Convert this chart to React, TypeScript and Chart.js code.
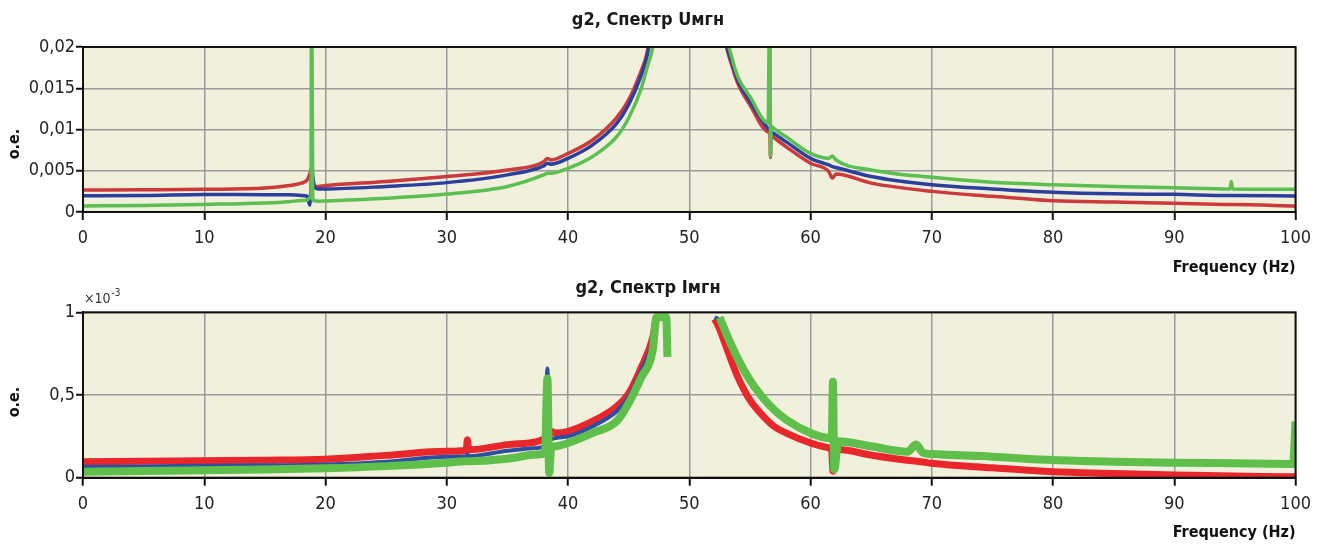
import React, { useEffect, useRef } from 'react';
import { Chart, registerables } from 'chart.js';

Chart.register(...registerables);

const FONT = "'DejaVu Sans Condensed', 'Liberation Sans Narrow', 'Arial Narrow', sans-serif";

// ---------- shared tick labels ----------
const xTickLabels = ['0', '10', '20', '30', '40', '50', '60', '70', '80', '90', '100'];
const yTicksTop = ['0', '0,005', '0,01', '0,015', '0,02'];
const yTicksBottom = ['0', '0,5', '1'];

// ---------- top chart: g2, Спектр Uмгн ----------
const freqTop = [
  0, 5, 10, 15, 17, 18, 18.5, 18.7, 18.8, 18.85, 18.95, 19.1, 19.4, 20, 25, 30, 35, 38, 38.3, 38.6,
  40, 42, 44, 45, 46, 46.5, 47, 47.5, 48, 52, 52.5, 53, 53.5, 54, 55, 56.5, 56.65, 56.7, 56.75, 57,
  58, 60, 61.5, 61.8, 62.1, 65, 70, 75, 80, 85, 90, 94.6, 94.7, 94.8, 100,
];
const redTop = [
  0.00267, 0.0027, 0.00275, 0.0029, 0.0032, 0.0035, 0.0039, 0.0046, 0.0051, 0.0053, 0.004, 0.0032, 0.0031, 0.0032, 0.0037, 0.0043, 0.0051, 0.0061, 0.0065, 0.0063,
  0.0071, 0.0087, 0.0114, 0.0136, 0.017, 0.0192, 0.024, 0.03, 0.04, 0.04, 0.026, 0.0205, 0.0178, 0.0156, 0.013, 0.0097, 0.0094, 0.0066, 0.0093, 0.009,
  0.0079, 0.0059, 0.0049, 0.0041, 0.0046, 0.0035, 0.0025, 0.0019, 0.00137, 0.0012, 0.00105, 0.0009, 0.0009, 0.0009, 0.00073,
];
const blueTop = [
  0.00198, 0.002, 0.00212, 0.0021, 0.0021, 0.002, 0.0019, 0.00085, 0.003, 0.0055, 0.0043, 0.003, 0.0028, 0.0028, 0.0031, 0.00356, 0.0045, 0.0056, 0.0059, 0.0058,
  0.0065, 0.0081, 0.0107, 0.013, 0.0164, 0.0188, 0.023, 0.029, 0.04, 0.04, 0.027, 0.021, 0.0182, 0.016, 0.0134, 0.0101, 0.0099, 0.0098, 0.0097, 0.0095,
  0.0085, 0.0065, 0.0057, 0.0055, 0.0054, 0.0043, 0.0033, 0.0028, 0.0024, 0.0022, 0.00214, 0.002, 0.002, 0.002, 0.00194,
];
const greenTop = [
  0.00073, 0.00078, 0.00092, 0.0011, 0.00125, 0.0014, 0.00145, 0.0017, 0.0019, 0.03, 0.0015, 0.00135, 0.0013, 0.00133, 0.00166, 0.00218, 0.0031, 0.0045, 0.0047, 0.0047,
  0.0053, 0.0067, 0.0091, 0.0114, 0.0148, 0.0174, 0.02, 0.025, 0.035, 0.04, 0.029, 0.022, 0.0188, 0.0164, 0.014, 0.0108, 0.03, 0.0068, 0.0104, 0.0101,
  0.0091, 0.0071, 0.0065, 0.0068, 0.0063, 0.0051, 0.0042, 0.0036, 0.0033, 0.0031, 0.00295, 0.0028, 0.0037, 0.0028, 0.00275,
];

// ---------- bottom chart: g2, Спектр Iмгн (values ×10^-3) ----------
const freqBottom = [
  0, 5, 10, 15, 20, 25, 30, 31.6, 31.7, 31.8, 35, 37.5, 38.1, 38.3, 38.45, 38.6, 39, 40, 42, 44,
  45, 46, 47, 47.3, 48.1, 48.2, 48.3, 50, 52.1, 52.5, 53, 54, 55, 56, 57, 58, 60, 61.5, 61.75, 61.85,
  61.95, 62.3, 65, 68, 68.7, 69.3, 70, 75, 80, 85, 90, 95, 99.8, 100,
];
const redBottom = [
  0.097, 0.1, 0.103, 0.106, 0.112, 0.135, 0.16, 0.165, 0.23, 0.168, 0.2, 0.22, 0.24, 0.26, 0.25, 0.28, 0.27, 0.28, 0.34, 0.43,
  0.51, 0.66, 0.85, 0.97, 0.97, 0.97, null, null, 0.96, 0.9, 0.8, 0.61, 0.47, 0.38, 0.31, 0.27, 0.21, 0.18, 0.16, 0.04,
  0.15, 0.17, 0.137, 0.105, 0.1, 0.095, 0.087, 0.06, 0.036, 0.026, 0.016, 0.01, 0.006, 0.006,
];
const blueBottom = [
  0.066, 0.068, 0.073, 0.075, 0.08, 0.097, 0.127, 0.13, 0.14, 0.13, 0.163, 0.18, 0.2, 0.66, 0.22, 0.23, 0.24, 0.25, 0.31, 0.4,
  0.49, 0.64, 0.83, 0.97, 0.97, 0.97, null, null, 0.97, 0.95, 0.87, 0.71, 0.58, 0.48, 0.4, 0.34, 0.26, 0.23, 0.22, 0.5,
  0.1, 0.21, 0.18, 0.15, 0.19, 0.145, 0.135, 0.12, 0.1, 0.092, 0.085, 0.082, 0.08, 0.08,
];
const greenBottom = [
  0.036, 0.04, 0.045, 0.05, 0.057, 0.07, 0.09, 0.1, 0.1, 0.1, 0.115, 0.14, 0.15, 0.6, 0.03, 0.17, 0.19, 0.21, 0.27, 0.34,
  0.45, 0.6, 0.78, 0.97, 0.97, 0.73, null, null, null, 0.97, 0.88, 0.72, 0.59, 0.49, 0.41, 0.35, 0.27, 0.24, 0.24, 0.58,
  0.05, 0.22, 0.19, 0.157, 0.2, 0.15, 0.143, 0.127, 0.107, 0.097, 0.091, 0.087, 0.083, 0.34,
];

const toPoints = (xs: number[], ys: (number | null)[]) => xs.map((x, i) => ({ x, y: ys[i] }));

type Extra = { yLabelCenter: number; exponent?: boolean };

function framePlugin(extra: Extra) {
  return {
    id: 'frame',
    beforeDraw(chart: any) {
      const { ctx, chartArea: a } = chart;
      ctx.save();
      ctx.fillStyle = '#f0f0dc';
      ctx.fillRect(a.left, a.top, a.right - a.left, a.bottom - a.top);
      ctx.restore();
    },
    afterDatasetsDraw(chart: any) {
      const { ctx, chartArea: a } = chart;
      ctx.save();
      ctx.strokeStyle = '#111';
      ctx.lineWidth = 2;
      ctx.strokeRect(a.left, a.top, a.right - a.left, a.bottom - a.top);
      ctx.restore();
    },
    afterDraw(chart: any) {
      const { ctx } = chart;
      ctx.save();
      ctx.fillStyle = '#111';
      ctx.font = `bold 16px ${FONT}`;
      ctx.textAlign = 'center';
      ctx.textBaseline = 'middle';
      ctx.translate(15, extra.yLabelCenter);
      ctx.rotate(-Math.PI / 2);
      ctx.fillText('о.е.', 0, 0);
      ctx.restore();
      if (extra.exponent) {
        ctx.save();
        ctx.fillStyle = '#333';
        ctx.textAlign = 'left';
        ctx.textBaseline = 'alphabetic';
        ctx.font = `14px ${FONT}`;
        ctx.fillText('×10', 84, 25);
        const w = ctx.measureText('×10').width;
        ctx.font = `10px ${FONT}`;
        ctx.fillText('-3', 84 + w + 1, 18);
        ctx.restore();
      }
    },
  };
}

type ChartSpec = {
  title: string;
  height: number;
  titlePad: { top: number; bottom: number };
  xAxisH: number;
  xTitleBottom: number;
  yMax: number;
  yStep: number;
  yLabels: string[];
  series: { data: { x: number; y: number | null }[]; color: string; width: number }[];
  extra: Extra;
};

function buildConfig(s: ChartSpec): any {
  return {
    type: 'line',
    data: {
      // first dataset is drawn on top
      datasets: s.series.map((d) => ({
        data: d.data,
        borderColor: d.color,
        borderWidth: d.width,
        pointRadius: 0,
        fill: false,
        cubicInterpolationMode: 'monotone',
        spanGaps: false,
        clip: 0,
      })),
    },
    options: {
      responsive: false,
      animation: false,
      events: [],
      layout: { padding: { left: 0, right: 23, top: 0, bottom: 0 } },
      plugins: {
        legend: { display: false },
        tooltip: { enabled: false },
        title: {
          display: true,
          text: s.title,
          color: '#1a1a1a',
          font: { family: FONT, size: 18, weight: 'bold', lineHeight: 1 },
          padding: s.titlePad,
        },
      },
      scales: {
        x: {
          type: 'linear',
          min: 0,
          max: 100,
          ticks: {
            stepSize: 10,
            autoSkip: false,
            maxRotation: 0,
            callback: (_v: any, i: number) => xTickLabels[i],
            font: { family: FONT, size: 18 },
            color: '#222',
            padding: 8,
          },
          grid: { color: '#9a9a9a', lineWidth: 1.5, tickColor: '#111', tickLength: 8, tickWidth: 2 },
          border: { display: true, color: '#111', width: 2 },
          title: {
            display: true,
            text: 'Frequency (Hz)',
            align: 'end',
            color: '#111',
            font: { family: FONT, size: 16, weight: 'bold', lineHeight: 1 },
            padding: { top: 0, bottom: s.xTitleBottom },
          },
          afterFit: (sc: any) => {
            sc.height = s.xAxisH;
          },
        },
        y: {
          type: 'linear',
          min: 0,
          max: s.yMax,
          ticks: {
            stepSize: s.yStep,
            autoSkip: false,
            callback: (_v: any, i: number) => s.yLabels[i],
            font: { family: FONT, size: 18 },
            color: '#222',
            padding: 1,
          },
          grid: { color: '#9a9a9a', lineWidth: 1.5, tickColor: '#111', tickLength: 7, tickWidth: 2 },
          border: { display: true, color: '#111', width: 2 },
          afterFit: (sc: any) => {
            sc.width = 83;
          },
        },
      },
    },
    plugins: [framePlugin(s.extra)],
  };
}

function ChartCanvas({ spec }: { spec: ChartSpec }) {
  const ref = useRef<HTMLCanvasElement | null>(null);
  useEffect(() => {
    if (!ref.current) return;
    const chart = new Chart(ref.current, buildConfig(spec));
    return () => chart.destroy();
  }, []);
  return <canvas ref={ref} width={1319} height={spec.height} style={{ display: 'block' }} />;
}

const topSpec: ChartSpec = {
  title: 'g2, Спектр Uмгн',
  height: 278,
  titlePad: { top: 11, bottom: 18 },
  xAxisH: 66,
  xTitleBottom: 2,
  yMax: 0.02,
  yStep: 0.005,
  yLabels: yTicksTop,
  series: [
    { data: toPoints(freqTop, greenTop), color: '#5cbf52', width: 3.5 },
    { data: toPoints(freqTop, blueTop), color: '#2b3f9c', width: 3.5 },
    { data: toPoints(freqTop, redTop), color: '#cc3a3c', width: 3.5 },
  ],
  extra: { yLabelCenter: 144 },
};

const bottomSpec: ChartSpec = {
  title: 'g2, Спектр Iмгн',
  height: 269,
  titlePad: { top: 1, bottom: 15.3 },
  xAxisH: 69.3,
  xTitleBottom: 6,
  yMax: 1,
  yStep: 0.5,
  yLabels: yTicksBottom,
  series: [
    { data: toPoints(freqBottom, greenBottom), color: '#5fbf4a', width: 8 },
    { data: toPoints(freqBottom, blueBottom), color: '#2c4fa3', width: 4 },
    { data: toPoints(freqBottom, redBottom), color: '#e8262b', width: 7 },
  ],
  extra: { yLabelCenter: 124, exponent: true },
};

export default function App() {
  return (
    <div style={{ position: 'fixed', left: 0, top: 0, width: 1319, height: 547, background: '#fff', overflow: 'hidden' }}>
      <ChartCanvas spec={topSpec} />
      <ChartCanvas spec={bottomSpec} />
    </div>
  );
}
